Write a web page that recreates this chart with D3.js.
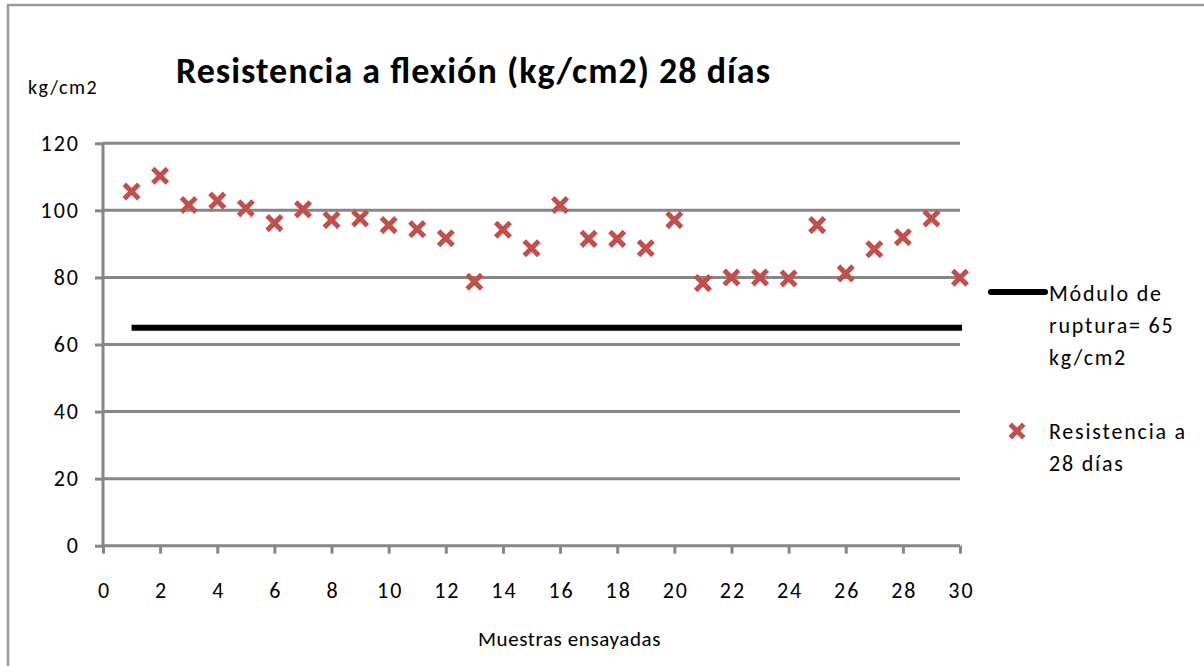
<!DOCTYPE html>
<html><head><meta charset="utf-8">
<script src="https://cdn.jsdelivr.net/npm/d3@7"></script>
<style>body{margin:0;background:#fff}svg{display:block}</style>
</head><body>
<svg id="c" width="1204" height="666"></svg>
<script>
const samples = d3.range(1, 31);
const resistencia = [105.6,110.3,101.6,102.9,100.6,96.2,100.3,97.1,97.6,95.6,94.4,91.7,78.7,94.2,88.7,101.6,91.5,91.5,88.7,97.1,78.3,80.0,80.0,79.7,95.6,81.2,88.4,92.0,97.6,79.9];
const modulo = 65;
const xTicks = d3.range(0, 31, 2);
const yTicks = [0,20,40,60,80,100,120];
const title = "Resistencia a flexión (kg/cm2) 28 días";
const yLabel = "kg/cm2";
const xLabel = "Muestras ensayadas";
const legendLine = ["Módulo de","ruptura= 65","kg/cm2"];
const legendMark = ["Resistencia a","28 días"];

const svg = d3.select("#c");
const font = "Carlito, Calibri, 'Open Sans', sans-serif";
const grey = "#868686", red = "#C0504D";

// frame
svg.append("path").attr("d","M8,666V5H1204").attr("fill","none").attr("stroke","#9a9a9a").attr("stroke-width",2.5);

const x = d3.scaleLinear().domain([0,30]).range([103,960]);
const y = d3.scaleLinear().domain([0,120]).range([545.7,143.3]);

// gridlines
svg.append("g").selectAll("line").data(yTicks.filter(d=>d>0)).join("line")
  .attr("x1",x(0)).attr("x2",x(30)).attr("y1",d=>y(d)).attr("y2",d=>y(d))
  .attr("stroke",grey).attr("stroke-width",3);

// y axis
const ya = svg.append("g").attr("transform",`translate(${x(0)},0)`)
  .call(d3.axisLeft(y).tickValues(yTicks).tickSize(8).tickPadding(15));
ya.select(".domain").attr("stroke",grey).attr("stroke-width",3).attr("d",`M0,${y(0)}V${y(120)}`);
ya.selectAll(".tick line").attr("stroke",grey).attr("stroke-width",3);
ya.selectAll("text").attr("font-family",font).attr("font-size",22).attr("letter-spacing",2).attr("fill","#000")
  .attr("text-anchor","end").attr("x",-23);

// x axis
const xa = svg.append("g").attr("transform",`translate(0,${y(0)})`)
  .call(d3.axisBottom(x).tickValues(xTicks).tickSize(8).tickPadding(28));
xa.select(".domain").attr("stroke",grey).attr("stroke-width",3).attr("d",`M${x(0)},0H${x(30)}`);
xa.selectAll(".tick line").attr("stroke",grey).attr("stroke-width",3);
xa.selectAll("text").attr("font-family",font).attr("font-size",22).attr("letter-spacing",2).attr("fill","#000")
  .attr("dy",0).attr("y",52).attr("dx",1);

// modulo line
svg.append("line").attr("x1",x(1)).attr("x2",x(30)+2).attr("y1",y(modulo)).attr("y2",y(modulo))
  .attr("stroke","#000").attr("stroke-width",6);

// markers
function xMark(g, h){
  g.append("path").attr("d",`M${-h},${-h}L${h},${h}M${h},${-h}L${-h},${h}`).attr("stroke",red).attr("stroke-width",5).attr("stroke-linecap","square");
}
svg.append("g").selectAll("g").data(resistencia).join("g")
  .attr("transform",(d,i)=>`translate(${x(samples[i])},${y(d)})`).each(function(){xMark(d3.select(this),5.5);});

// texts
svg.append("text").attr("x",473).attr("y",83).attr("text-anchor","middle").attr("font-family",font)
  .attr("font-weight","bold").attr("font-size",36).attr("textLength",594).attr("lengthAdjust","spacing").text(title);
svg.append("text").attr("x",28).attr("y",94).attr("font-family",font).attr("font-size",20).attr("letter-spacing",1.5).text(yLabel);
svg.append("text").attr("x",478).attr("y",646).attr("font-family",font).attr("font-size",21).attr("letter-spacing",0.6).text(xLabel);

// legend
svg.append("line").attr("x1",991).attr("x2",1045).attr("y1",292).attr("y2",292).attr("stroke","#000").attr("stroke-width",6).attr("stroke-linecap","round");
svg.append("g").selectAll("text").data(legendLine).join("text").attr("x",1049).attr("y",(d,i)=>301+i*32)
  .attr("font-family",font).attr("font-size",22).attr("letter-spacing",1.8).text(d=>d);
const lm = svg.append("g").attr("transform","translate(1017,431)");
xMark(lm, 5);
svg.append("g").selectAll("text").data(legendMark).join("text").attr("x",1049).attr("y",(d,i)=>439+i*32)
  .attr("font-family",font).attr("font-size",22).attr("letter-spacing",1.8).text(d=>d);
</script>
</body></html>
